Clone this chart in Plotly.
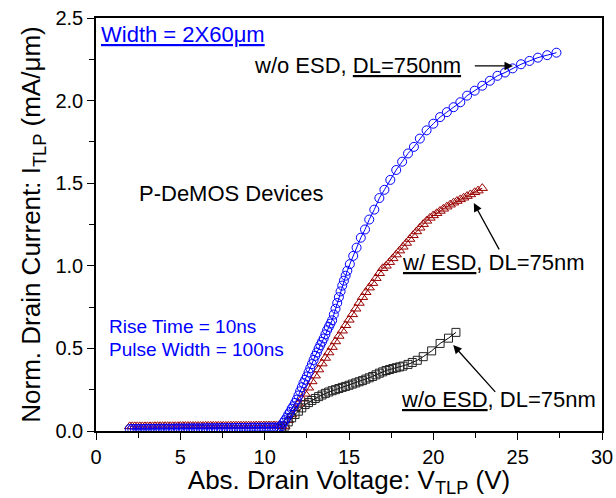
import plotly.graph_objects as go

# ---- data ----
# voltage points of the flat (pre-breakdown) part, shared by the blue and red sweeps
flat_v = [2.0, 2.15, 2.3, 2.45, 2.6, 2.75, 2.9, 3.05, 3.2, 3.35, 3.5, 3.65, 3.8, 3.95, 4.1, 4.25, 4.4, 4.55,
          4.7, 4.85, 5.0, 5.15, 5.3, 5.45, 5.6, 5.75, 5.9, 6.05, 6.2, 6.35, 6.5, 6.65, 6.8, 6.95, 7.1, 7.25,
          7.4, 7.55, 7.7, 7.85, 8.0, 8.15, 8.3, 8.45, 8.6, 8.75, 8.9, 9.05, 9.2, 9.35, 9.5, 9.65, 9.8, 9.95,
          10.1, 10.25, 10.4, 10.55, 10.7, 10.85]
blue_flat_i = [0.012, 0.012, 0.012, 0.012, 0.012, 0.012, 0.013, 0.013, 0.013, 0.013, 0.013, 0.013,
               0.014, 0.014, 0.014, 0.014, 0.014, 0.014, 0.015, 0.015, 0.015, 0.015, 0.015, 0.015,
               0.016, 0.016, 0.016, 0.016, 0.016, 0.016, 0.017, 0.017, 0.017, 0.017, 0.017, 0.017,
               0.018, 0.018, 0.018, 0.018, 0.018, 0.018, 0.019, 0.019, 0.019, 0.019, 0.019, 0.019,
               0.020, 0.020, 0.020, 0.020, 0.020, 0.020, 0.021, 0.021, 0.021, 0.021, 0.021, 0.022]
red_flat_i = [0.028, 0.028, 0.028, 0.028, 0.028, 0.028, 0.028, 0.028, 0.028, 0.028,
              0.029, 0.029, 0.029, 0.029, 0.029, 0.029, 0.029, 0.029, 0.029, 0.029,
              0.030, 0.030, 0.030, 0.030, 0.030, 0.030, 0.030, 0.030, 0.030, 0.030,
              0.031, 0.031, 0.031, 0.031, 0.031, 0.031, 0.031, 0.031, 0.031, 0.031,
              0.032, 0.032, 0.032, 0.032, 0.032, 0.032, 0.032, 0.032, 0.032, 0.032,
              0.033, 0.033, 0.033, 0.033, 0.033, 0.033, 0.033, 0.033, 0.033, 0.033]

blue_rise_v = [11.0, 11.1, 11.2, 11.3, 11.4, 11.5, 11.6, 11.7, 11.8, 11.9, 12.0, 12.1, 12.2, 12.3, 12.4, 12.5,
               12.6, 12.7, 12.8, 12.9, 13.0, 13.1, 13.2, 13.3, 13.4, 13.5, 13.6, 13.7, 13.8, 13.9, 14.0, 14.1,
               14.2, 14.3, 14.4, 14.5, 14.6, 14.7, 14.8, 14.9,
               15.05, 15.25, 15.45, 15.7, 15.95, 16.2, 16.5, 16.8, 17.1, 17.45, 17.8, 18.15, 18.5, 18.85,
               19.2, 19.6, 20.0, 20.4, 20.8, 21.2, 21.6, 22.0, 22.45, 22.9, 23.35, 23.8, 24.25, 24.7, 25.2,
               25.7, 26.2, 26.75, 27.3]
blue_rise_i = [0.030, 0.050, 0.065, 0.080, 0.100, 0.115, 0.135, 0.150, 0.170, 0.190, 0.215, 0.240, 0.265,
               0.290, 0.310, 0.330, 0.355, 0.380, 0.405, 0.430, 0.455, 0.475, 0.500, 0.520, 0.540, 0.560,
               0.585, 0.610, 0.630, 0.650, 0.670, 0.705, 0.740, 0.775, 0.810, 0.845, 0.880, 0.910, 0.940,
               0.970,
               1.010, 1.060, 1.110, 1.170, 1.220, 1.280, 1.340, 1.410, 1.460, 1.520, 1.580, 1.630, 1.680,
               1.720, 1.770, 1.820, 1.860, 1.900, 1.930, 1.960, 1.990, 2.030, 2.060, 2.090, 2.120, 2.150,
               2.170, 2.195, 2.220, 2.240, 2.260, 2.275, 2.290]

red_rise_v = [11.0, 11.2, 11.4, 11.6, 11.8, 12.0, 12.2, 12.4, 12.6, 12.8, 13.0, 13.2, 13.4, 13.6, 13.8, 14.0,
              14.2, 14.4, 14.6, 14.8, 15.0, 15.2, 15.4, 15.6, 15.8, 16.0, 16.2, 16.4, 16.6, 16.8, 17.0, 17.2,
              17.4, 17.6, 17.8, 18.0, 18.2, 18.4, 18.6, 18.8, 19.0, 19.2, 19.4, 19.6, 19.8, 20.0, 20.2, 20.4,
              20.6, 20.8, 21.0, 21.2, 21.4, 21.6, 21.8, 22.0, 22.2, 22.45, 22.65, 22.9]
red_rise_i = [0.030, 0.030, 0.065, 0.100, 0.135, 0.165, 0.195, 0.225, 0.262, 0.300, 0.335, 0.372, 0.408,
              0.442, 0.475, 0.508, 0.542, 0.575, 0.607, 0.640, 0.673, 0.706, 0.740, 0.775, 0.810, 0.840,
              0.868, 0.895, 0.925, 0.955, 0.985, 1.000, 1.022, 1.045, 1.068, 1.092, 1.115, 1.138, 1.162,
              1.185, 1.208, 1.230, 1.252, 1.272, 1.290, 1.305, 1.318, 1.332, 1.345, 1.358, 1.370, 1.382,
              1.392, 1.402, 1.412, 1.422, 1.432, 1.445, 1.455, 1.470]

black_v = [11.0, 11.2, 11.4, 11.6, 11.8, 12.0, 12.2, 12.4, 12.6, 12.8, 13.0, 13.2, 13.4, 13.6, 13.8, 14.0,
           14.2, 14.4, 14.6, 14.8, 15.0, 15.2, 15.4, 15.6, 15.8, 16.0, 16.2, 16.4, 16.6, 16.8, 17.0, 17.2,
           17.4, 17.6, 17.8, 18.0, 18.2, 18.5, 18.75, 19.05, 19.4, 19.9, 20.4, 20.9, 21.34]
black_i = [0.015, 0.030, 0.055, 0.080, 0.100, 0.120, 0.140, 0.160, 0.172, 0.185, 0.197, 0.208, 0.218, 0.228,
           0.236, 0.244, 0.250, 0.257, 0.264, 0.270, 0.277, 0.284, 0.291, 0.298, 0.305, 0.314, 0.322, 0.330,
           0.340, 0.350, 0.358, 0.366, 0.372, 0.378, 0.383, 0.388, 0.393, 0.403, 0.415, 0.428, 0.450, 0.485,
           0.530, 0.562, 0.597]

x_ticks = [0, 5, 10, 15, 20, 25, 30]
y_ticks = [0.0, 0.5, 1.0, 1.5, 2.0, 2.5]
y_tick_text = ["0.0", "0.5", "1.0", "1.5", "2.0", "2.5"]

blue_v = flat_v + blue_rise_v
blue_i = blue_flat_i + blue_rise_i
red_v = flat_v + red_rise_v
red_i = red_flat_i + red_rise_i

FONT = "Arial, Liberation Sans, sans-serif"
BLUE = "#0000FF"
RED = "#990000"

fig = go.Figure()
fig.add_trace(go.Scatter(x=red_v, y=red_i, mode="lines+markers",
                         line=dict(color=RED, width=1),
                         marker=dict(symbol="triangle-up-open", size=9, color=RED, line=dict(width=1))))
fig.add_trace(go.Scatter(x=black_v, y=black_i, mode="lines+markers",
                         line=dict(color="black", width=1),
                         marker=dict(symbol="square-open", size=8, color="#222222", line=dict(width=1))))
fig.add_trace(go.Scatter(x=blue_v, y=blue_i, mode="lines+markers",
                         line=dict(color=BLUE, width=1),
                         marker=dict(symbol="circle-open", size=9, color=BLUE, line=dict(width=1))))

annotations = [
    dict(x=0.18, y=2.40, text="<u>Width = 2X60\u03bcm</u>", xanchor="left", yanchor="middle",
         font=dict(size=22, color=BLUE)),
    dict(x=21.76, y=2.21, text="w/o ESD, <u>DL=750nm</u>", xanchor="right", yanchor="middle",
         font=dict(size=22, color="black")),
    dict(x=2.43, y=1.44, text="P-DeMOS Devices", xanchor="left", yanchor="middle",
         font=dict(size=22, color="black")),
    dict(x=18.0, y=1.017, text="<u>w/ ESD</u>, DL=75nm", xanchor="left", yanchor="middle",
         font=dict(size=22, color="black")),
    dict(x=17.95, y=0.188, text="<u>w/o ESD</u>, DL=75nm", xanchor="left", yanchor="middle",
         font=dict(size=22, color="black")),
    dict(x=0.63, y=0.631, text="Rise Time = 10ns", xanchor="left", yanchor="middle",
         font=dict(size=19, color=BLUE)),
    dict(x=0.63, y=0.496, text="Pulse Width = 100ns", xanchor="left", yanchor="middle",
         font=dict(size=19, color=BLUE)),
]
for a in annotations:
    a["showarrow"] = False
    a["xref"] = "x"
    a["yref"] = "y"

arrows = [
    (24.72, 2.21, 22.37, 2.21),
    (22.40, 1.38, 23.95, 1.09),
    (21.18, 0.52, 23.75, 0.228),
]
for tx, ty, sx, sy in arrows:
    annotations.append(dict(x=tx, y=ty, ax=sx, ay=sy, axref="x", ayref="y", xref="x", yref="y",
                            text="", showarrow=True, arrowhead=2, arrowsize=1.3, arrowwidth=1.3,
                            arrowcolor="black", standoff=0, startstandoff=0))

fig.update_layout(
    width=616, height=498,
    margin=dict(l=96, r=14, t=18, b=67),
    paper_bgcolor="white", plot_bgcolor="white",
    showlegend=False,
    font=dict(family=FONT, size=20, color="black"),
    annotations=annotations,
)
fig.update_xaxes(range=[0, 30], tickvals=x_ticks, ticks="outside", ticklen=7, tickwidth=1.3,
                 tickcolor="black", showline=True, linecolor="black", linewidth=1.5, mirror=True,
                 showgrid=False, zeroline=False, tickfont=dict(size=20), automargin=False,
                 minor=dict(dtick=2.5, ticks="outside", ticklen=5, tickwidth=1.3, tickcolor="black"),
                 title=dict(text="Abs. Drain Voltage: V<sub>TLP</sub> (V)", font=dict(size=26), standoff=8))
fig.update_yaxes(range=[0, 2.5], tickvals=y_ticks, ticktext=y_tick_text, ticks="outside", ticklen=7,
                 tickwidth=1.3, tickcolor="black", showline=True, linecolor="black", linewidth=1.5,
                 mirror=True, showgrid=False, zeroline=False, tickfont=dict(size=20), automargin=False,
                 minor=dict(dtick=0.25, ticks="outside", ticklen=5, tickwidth=1.3, tickcolor="black"),
                 title=dict(text="Norm. Drain Current: I<sub>TLP</sub> (mA/\u03bcm)", font=dict(size=26),
                            standoff=7))

fig.write_html("out.html")
